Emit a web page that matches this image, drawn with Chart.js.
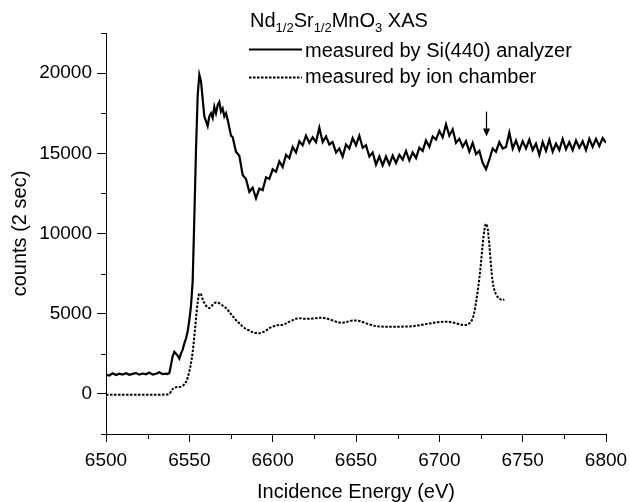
<!DOCTYPE html>
<html>
<head>
<meta charset="utf-8">
<script src="https://cdn.jsdelivr.net/npm/chart.js@4.4.1/dist/chart.umd.min.js"></script>
<style>
  html, body { margin: 0; padding: 0; background: #fff; }
</style>
</head>
<body>
<canvas id="xas-chart" width="629" height="502"></canvas>
<script>
// Nd1/2Sr1/2MnO3 XAS
const analyzerE = [
  6500, 6502, 6504, 6506, 6508, 6510, 6512, 6514, 6516, 6518, 6520, 6522, 6524, 6526, 6528, 6530, 6532, 6534, 6536,
  6537, 6538, 6539, 6540, 6541, 6542, 6543, 6544, 6545, 6546, 6547, 6548, 6549, 6550, 6551, 6552, 6553, 6554, 6555,
  6556, 6557, 6558, 6559, 6560, 6561, 6562, 6563, 6564, 6565, 6566, 6567, 6568, 6569, 6570, 6571, 6572, 6573, 6574, 6575,
  6576, 6578, 6580, 6582, 6584, 6586, 6588, 6590, 6592, 6594, 6596, 6598, 6600, 6602, 6604, 6606, 6608, 6610,
  6612, 6614, 6616, 6618, 6620, 6622, 6624, 6626, 6628, 6630, 6632, 6634, 6636, 6638, 6640, 6642, 6644, 6646,
  6648, 6650, 6652, 6654, 6656, 6658, 6660, 6662, 6664, 6666, 6668, 6670, 6672, 6674, 6676, 6678, 6680, 6682,
  6684, 6686, 6688, 6690, 6692, 6694, 6696, 6698, 6700, 6702, 6704, 6706, 6708, 6710, 6712, 6714, 6716, 6718,
  6720, 6722, 6724, 6726, 6728, 6730, 6732, 6734, 6736, 6738, 6740, 6742, 6744, 6746, 6748, 6750, 6752, 6754,
  6756, 6758, 6760, 6762, 6764, 6766, 6768, 6770, 6772, 6774, 6776, 6778, 6780, 6782, 6784, 6786, 6788, 6790,
  6792, 6794, 6796, 6798, 6800
];
const analyzerCounts = [
  1200, 1150, 1280, 1180, 1260, 1210, 1290, 1190, 1250, 1300, 1200, 1270, 1220, 1330, 1200, 1260, 1350, 1230, 1260,
  1240, 1300, 1800, 2350, 2620, 2500, 2380, 2200, 2520, 2760, 3150, 3450, 3900, 4600, 5500, 7000, 11000, 15200, 18600,
  19900, 19500, 18400, 17300, 17000, 16700, 17300, 17500, 17200, 17900, 17500, 18000, 18200, 17600, 17800, 17300, 17500, 17100, 16600, 16100,
  16000, 15100, 14850, 13650, 13400, 12600, 12850, 12200, 12800, 12700, 13500, 13400, 14000, 13850, 14500, 14150, 14900, 14700,
  15400, 15050, 15750, 15500, 16100, 15650, 16000, 15700, 16600, 15700, 16050, 15550, 15700, 15050, 15300, 14800, 15550, 15300,
  15950, 15500, 16100, 15350, 15500, 14800, 15050, 14300, 14800, 14250, 14800, 14300, 14850, 14400, 14900, 14600, 15150, 14550,
  15050, 14700, 15350, 15150, 15800, 15400, 16050, 15850, 16400, 16000, 16800, 16100, 16500, 15650, 15900, 15400, 15750, 15100,
  15650, 14950, 15150, 14400, 14000, 14600, 15300, 15100, 15700, 15300, 15400, 16300, 15300, 15800, 15200, 15750, 15300, 15850,
  15200, 15600, 14900, 15700, 15150, 15850, 15100, 15600, 15200, 15900, 15250, 15700, 15200, 15800, 15350, 15750, 15200, 15900,
  15400, 15900, 15450, 15950, 15650
];

const chamberE = [
  6500, 6510, 6520, 6530, 6536, 6538, 6540, 6542, 6544, 6546, 6548, 6549, 6550, 6551, 6552, 6553, 6554, 6555,
  6556, 6557, 6558, 6560, 6562, 6564, 6566, 6568, 6570, 6572, 6574, 6576, 6578, 6580, 6582, 6584, 6586, 6588,
  6590, 6592, 6594, 6596, 6598, 6600, 6602, 6604, 6606, 6608, 6610, 6612, 6614, 6616, 6618, 6620, 6622, 6624,
  6626, 6628, 6630, 6632, 6634, 6636, 6638, 6640, 6642, 6644, 6646, 6648, 6650, 6652, 6654, 6656, 6658, 6660,
  6662, 6664, 6668, 6672, 6676, 6680, 6684, 6688, 6692, 6696, 6700, 6704, 6708, 6712, 6714, 6716, 6718, 6720,
  6721, 6722, 6723, 6724, 6725, 6726, 6727, 6728, 6729, 6730, 6731, 6732, 6733, 6734, 6736, 6738, 6739
];
const chamberCounts = [
  -50, -50, -50, -50, -40, 0, 300, 420, 430, 500, 750, 1000, 1400, 1900, 2600, 3600, 4700, 5700,
  6250, 6200, 5900, 5500, 5350, 5550, 5700, 5650, 5500, 5350, 5100, 4850, 4600, 4400, 4200, 4050, 3950, 3850,
  3800, 3780, 3850, 3950, 4100, 4200, 4250, 4300, 4300, 4400, 4500, 4600, 4680, 4720, 4700, 4680, 4680, 4700,
  4720, 4750, 4750, 4700, 4650, 4580, 4500, 4450, 4440, 4480, 4530, 4570, 4570, 4550, 4480, 4400, 4330, 4270,
  4220, 4200, 4190, 4190, 4190, 4200, 4220, 4280, 4350, 4420, 4480, 4500, 4460, 4350, 4300, 4300, 4400, 4700,
  5100, 5700, 6400, 7200, 8200, 9300, 10200, 10600, 10300, 9300, 8000, 7000, 6500, 6200, 5950, 5850, 5900
];

const xTicks = [6500, 6550, 6600, 6650, 6700, 6750, 6800];
const xMinorTicks = [6525, 6575, 6625, 6675, 6725, 6775];
const yTicks = [0, 5000, 10000, 15000, 20000];
const yMinorTicks = [-2500, 2500, 7500, 12500, 17500, 22500];

const seriesNames = ['measured by Si(440) analyzer', 'measured by ion chamber'];
// flecha sobre la caída de 6728 eV: [energía, inicio, fin]
const arrowMark = [6728, 17600, 16050];

const FONT = '"Liberation Sans", Arial, sans-serif';

function toPoints(xs, ys) {
    return xs.map((x, i) => ({ x, y: ys[i] }));
}

// ticks menores (más cortos que los principales)
const minorTicksPlugin = {
    id: 'minorTicks',
    afterDraw(chart) {
        const { ctx, chartArea, scales } = chart;
        ctx.save();
        ctx.strokeStyle = '#000';
        ctx.lineWidth = 1;
        ctx.beginPath();
        xMinorTicks.forEach(v => {
            const px = Math.round(scales.x.getPixelForValue(v)) + 0.5;
            ctx.moveTo(px, chartArea.bottom);
            ctx.lineTo(px, chartArea.bottom + 5);
        });
        yMinorTicks.forEach(v => {
            const py = Math.round(scales.y.getPixelForValue(v)) + 0.5;
            ctx.moveTo(chartArea.left - 5, py);
            ctx.lineTo(chartArea.left, py);
        });
        ctx.stroke();
        ctx.restore();
    }
};

// título con subíndices, leyenda y flecha
const annotationsPlugin = {
    id: 'annotations',
    afterDraw(chart) {
        const { ctx, scales } = chart;
        ctx.save();
        ctx.fillStyle = '#000';
        ctx.strokeStyle = '#000';
        ctx.textBaseline = 'alphabetic';
        ctx.textAlign = 'left';

        const parts = [
            ['Nd', false], ['1/2', true], ['Sr', false], ['1/2', true],
            ['MnO', false], ['3', true], [' XAS', false]
        ];
        let x = 250;
        parts.forEach(([t, sub]) => {
            ctx.font = (sub ? '13px ' : '20px ') + FONT;
            ctx.fillText(t, x, sub ? 31.5 : 27);
            x += ctx.measureText(t).width;
        });

        // leyenda
        ctx.font = '20px ' + FONT;
        ctx.lineWidth = 2;
        ctx.beginPath();
        ctx.moveTo(249, 49.5);
        ctx.lineTo(302, 49.5);
        ctx.stroke();
        ctx.fillText(seriesNames[0], 305, 57);

        ctx.setLineDash([2.5, 1.5]);
        ctx.beginPath();
        ctx.moveTo(249, 77.5);
        ctx.lineTo(302, 77.5);
        ctx.stroke();
        ctx.setLineDash([]);
        ctx.fillText(seriesNames[1], 305, 83);

        // flecha
        const ax = Math.round(scales.x.getPixelForValue(arrowMark[0])) + 0.5;
        const ay0 = scales.y.getPixelForValue(arrowMark[1]);
        const ay1 = scales.y.getPixelForValue(arrowMark[2]);
        ctx.lineWidth = 1.2;
        ctx.beginPath();
        ctx.moveTo(ax, ay0);
        ctx.lineTo(ax, ay1 - 6);
        ctx.stroke();
        ctx.beginPath();
        ctx.moveTo(ax - 3.5, ay1 - 8);
        ctx.lineTo(ax + 3.5, ay1 - 8);
        ctx.lineTo(ax, ay1);
        ctx.closePath();
        ctx.fill();
        ctx.restore();
    }
};

const ctxXas = document.getElementById('xas-chart').getContext('2d');

const xasChart = new Chart(ctxXas, {
    type: 'line',
    data: {
        datasets: [
            {
                label: seriesNames[0],
                data: toPoints(analyzerE, analyzerCounts),
                borderColor: '#000',
                borderWidth: 2.2,
                pointRadius: 0,
                tension: 0
            },
            {
                label: seriesNames[1],
                data: toPoints(chamberE, chamberCounts),
                borderColor: '#000',
                borderWidth: 2,
                borderDash: [2.5, 1.5],
                pointRadius: 0,
                cubicInterpolationMode: 'monotone'
            }
        ]
    },
    options: {
        responsive: false,
        animation: false,
        devicePixelRatio: 1,
        layout: { padding: { top: 33, right: 23, left: 0, bottom: 0 } },
        plugins: {
            legend: { display: false },
            tooltip: { enabled: false }
        },
        scales: {
            x: {
                type: 'linear',
                min: 6500,
                max: 6800,
                afterBuildTicks: s => { s.ticks = xTicks.map(v => ({ value: v })); },
                afterFit: s => { s.height = 68; s.paddingLeft = 0; s.paddingRight = 0; },
                border: { display: true, color: '#000', width: 1 },
                grid: { drawOnChartArea: false, drawTicks: true, tickLength: 8, tickColor: '#000' },
                ticks: {
                    color: '#000',
                    padding: 7,
                    maxRotation: 0,
                    font: { family: FONT, size: 19 },
                    callback: v => String(v)
                },
                title: {
                    display: true,
                    text: 'Incidence Energy (eV)',
                    color: '#000',
                    font: { family: FONT, size: 20, lineHeight: 1 },
                    padding: 0
                }
            },
            y: {
                min: -2500,
                max: 22500,
                afterBuildTicks: s => { s.ticks = yTicks.map(v => ({ value: v })); },
                afterFit: s => { s.width = 106; s.paddingTop = 0; s.paddingBottom = 0; },
                border: { display: true, color: '#000', width: 1 },
                grid: { drawOnChartArea: false, drawTicks: true, tickLength: 9, tickColor: '#000' },
                ticks: {
                    color: '#000',
                    padding: 5,
                    font: { family: FONT, size: 19 },
                    callback: v => String(v)
                },
                title: {
                    display: true,
                    text: 'counts (2 sec)',
                    color: '#000',
                    font: { family: FONT, size: 20, lineHeight: 1.2 },
                    padding: { top: 8, bottom: 0 }
                }
            }
        }
    },
    plugins: [minorTicksPlugin, annotationsPlugin]
});
</script>
</body>
</html>
